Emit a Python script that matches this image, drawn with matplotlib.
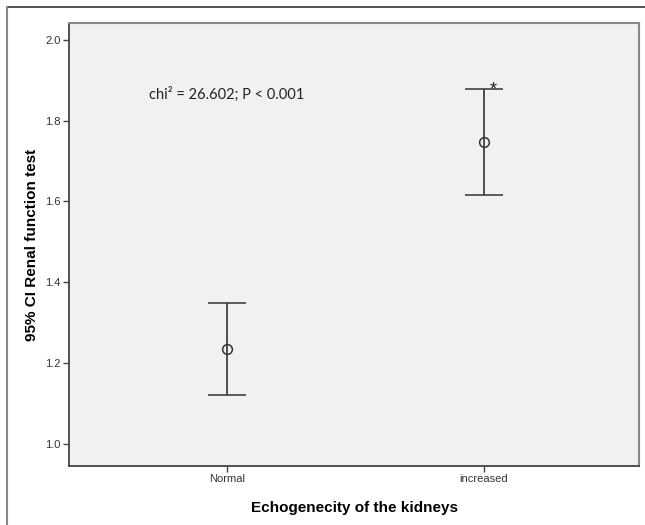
import matplotlib.pyplot as plt
from matplotlib.lines import Line2D

# data
groups = ['Normal', 'increased']
means = [1.235, 1.748]
upper = [1.349, 1.879]
lower = [1.120, 1.615]
y_ticks = [1.0, 1.2, 1.4, 1.6, 1.8, 2.0]

plt.rcParams['font.family'] = ['Liberation Sans', 'DejaVu Sans']

fig = plt.figure(figsize=(6.45, 5.25), dpi=100)
ax = fig.add_axes([0.107, 0.1124, 0.884, 0.844])
ax.set_facecolor('#f1f1f1')

x = list(range(len(groups)))
err_lo = [m - l for m, l in zip(means, lower)]
err_hi = [u - m for m, u in zip(means, upper)]
ax.errorbar(x, means, yerr=[err_lo, err_hi], fmt='o', mfc='none', mec='#333333',
            ms=7, mew=1.1, ecolor='#333333', elinewidth=1.2, capsize=14, capthick=1.2)

# asterisk next to the top cap of the second group
ax.text(x[1] + 0.035, upper[1] - 0.004, '*', fontsize=13, ha='center', va='center',
        color='#222222')

ax.text(0.14, 0.828, 'chi\u00b2 = 26.602; P < 0.001', transform=ax.transAxes,
        fontsize=10.5, family=['Lato', 'DejaVu Sans'], color='#222222')

ax.set_xlim(-0.615, 1.605)
ax.set_ylim(0.945, 2.042)
ax.set_xticks(x)
ax.set_xticklabels(groups, fontsize=8, color='#333333')
ax.set_yticks(y_ticks)
ax.set_yticklabels([f'{t:.1f}' for t in y_ticks], fontsize=8, color='#333333')
ax.tick_params(direction='out', length=4, width=1, color='#444444', pad=2)

for side in ['top', 'right']:
    ax.spines[side].set_color('#888888')
    ax.spines[side].set_linewidth(1.5)
for side in ['left', 'bottom']:
    ax.spines[side].set_color('#444444')
    ax.spines[side].set_linewidth(1.3)

ax.set_xlabel('Echogenecity of the kidneys', fontsize=11, fontweight='bold', labelpad=12)
ax.set_ylabel('95% CI Renal function test', fontsize=11, fontweight='bold')
ax.yaxis.set_label_coords(-0.052, 0.5)

# outer frame lines (top and left)
fig.add_artist(Line2D([0.011, 1.0], [0.987, 0.987], color='#333333', lw=1.2))
fig.add_artist(Line2D([0.011, 0.011], [0.0, 0.987], color='#888888', lw=1.5))

fig.savefig('out.png', dpi=100)
